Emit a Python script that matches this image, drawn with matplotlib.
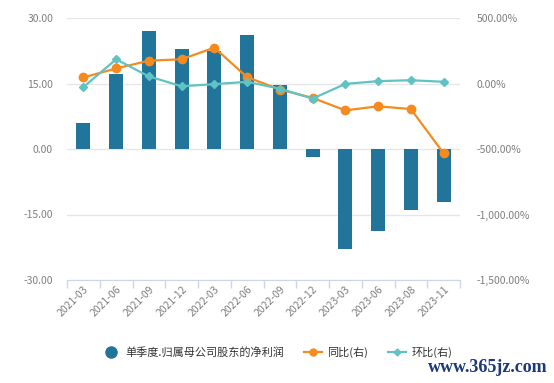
import numpy as np
from matplotlib import pyplot as plt
from matplotlib.lines import Line2D

plt.rcParams['font.family'] = ['Noto Sans CJK SC', 'DejaVu Sans']

# Datos
periodos = ["2021-03", "2021-06", "2021-09", "2021-12", "2022-03", "2022-06",
            "2022-09", "2022-12", "2023-03", "2023-06", "2023-08", "2023-11"]
beneficio = [6.0, 17.2, 27.0, 22.8, 22.4, 26.0, 14.7, -1.8, -23.0, -18.8, -14.0, -12.1]
tongbi = [46, 115, 174, 185, 274, 48, -46, -110, -205, -174, -195, -533]
huanbi = [-28, 185, 54, -21, -5, 13, -40, -115, -3, 18, 25, 13]

c_barra = "#21759b"
c_naranja = "#f58a1f"
c_turquesa = "#5fc3c4"
c_texto = "#7f7f7f"

fig = plt.figure(figsize=(5.54, 3.83), dpi=100)
ax = fig.add_axes([67 / 554, 1 - 280 / 383, (460 - 67) / 554, (280 - 18) / 383])
ax2 = ax.twinx()

x = np.arange(len(periodos))
ax.bar(x, beneficio, width=0.43, color=c_barra, zorder=2)
ax2.plot(x, tongbi, color=c_naranja, marker='o', markersize=6, linewidth=1.6, zorder=3)
ax2.plot(x, huanbi, color=c_turquesa, marker='D', markersize=4, linewidth=1.6, zorder=4)

ax.set_ylim(-30, 30)
ax.set_yticks([-30, -15, 0, 15, 30])
ax.set_yticklabels([f"{v:.2f}" for v in [-30, -15, 0, 15, 30]])
ax2.set_ylim(-1500, 500)
ax2.set_yticks([-1500, -1000, -500, 0, 500])
ax2.set_yticklabels([f"{v:,.2f}%" for v in [-1500, -1000, -500, 0, 500]])
ax.set_xlim(-0.5, len(periodos) - 0.5)

ax.grid(axis='y', color="#e6e6e6", linewidth=1, zorder=0)
ax.set_axisbelow(True)

# ticks de categorias en los bordes, etiquetas en el centro
ax.set_xticks(np.arange(-0.5, len(periodos)), minor=False)
ax.set_xticklabels([])
ax.set_xticks(x, minor=True)
ax.set_xticklabels(periodos, minor=True)
ax.tick_params(axis='x', which='major', length=6, color="#ccd6eb", width=1)
ax.tick_params(axis='x', which='minor', length=0, pad=3, labelsize=7.5, labelcolor=c_texto)
plt.setp(ax.get_xticklabels(minor=True), rotation=45, ha='right', rotation_mode='anchor')
ax.tick_params(axis='y', length=0, labelsize=7.5, labelcolor=c_texto, pad=10)
ax2.tick_params(axis='y', length=0, labelsize=7.5, labelcolor=c_texto, pad=12)

for a in (ax, ax2):
    for lado in ('top', 'left', 'right', 'bottom'):
        a.spines[lado].set_visible(False)
ax.spines['bottom'].set_visible(True)
ax.spines['bottom'].set_color("#ccd6eb")

# Leyenda
handles = [
    Line2D([], [], linestyle='none', marker='o', markersize=8, color=c_barra),
    Line2D([], [], color=c_naranja, marker='o', markersize=5, linewidth=1.6),
    Line2D([], [], color=c_turquesa, marker='D', markersize=3.5, linewidth=1.6),
]
etiquetas = ["单季度.归属母公司股东的净利润", "同比(右)", "环比(右)"]
fig.legend(handles, etiquetas, loc='center', bbox_to_anchor=(0.5, 1 - 352 / 383),
           ncol=3, frameon=False, fontsize=8, labelcolor="#333333",
           handlelength=1.6, columnspacing=1.8, handletextpad=0.5)

fig.text(548 / 554, 1 - 367 / 383, "www.365jz.com", ha='right', va='center',
         fontsize=13, color="#1b3a78", family='Liberation Serif', weight='bold')

fig.savefig("out.png", dpi=100)
